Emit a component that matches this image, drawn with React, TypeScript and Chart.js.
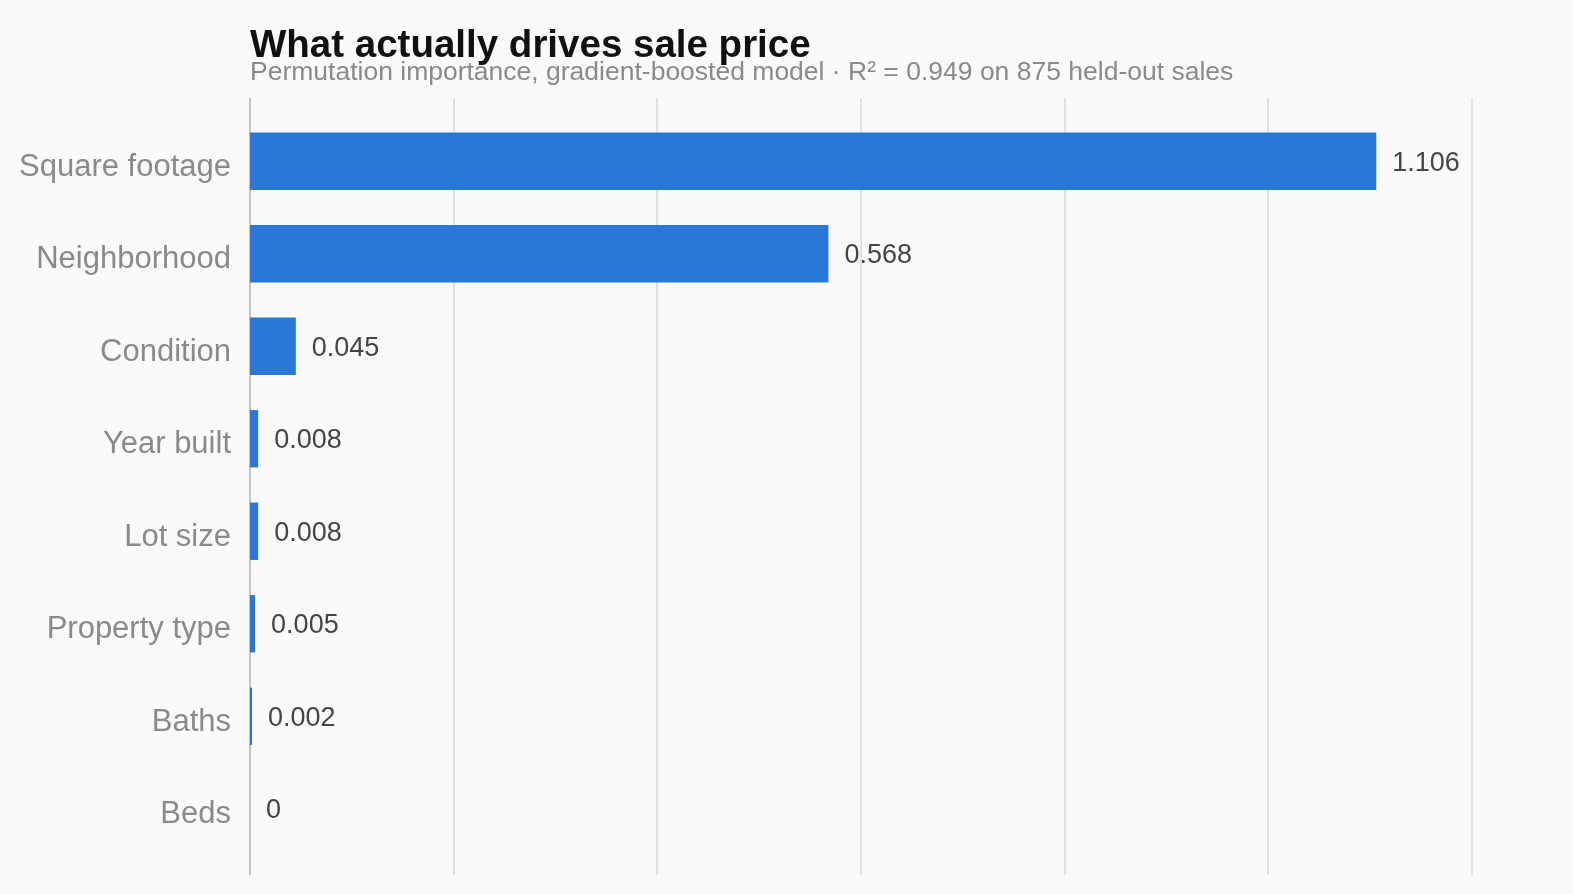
import { useEffect, useRef } from "react";
import { Chart, registerables } from "chart.js";

Chart.register(...registerables);

const features = [
  "Square footage",
  "Neighborhood",
  "Condition",
  "Year built",
  "Lot size",
  "Property type",
  "Baths",
  "Beds",
];
const importance = [1.106, 0.568, 0.045, 0.008, 0.008, 0.005, 0.002, 0];
const valueLabels = ["1.106", "0.568", "0.045", "0.008", "0.008", "0.005", "0.002", "0"];

const TITLE = "What actually drives sale price";
const SUBTITLE = "Permutation importance, gradient-boosted model · R² = 0.949 on 875 held-out sales";
const FONT = "'Liberation Sans', Arial, Helvetica, sans-serif";

// vertical grid lines, a bit longer than the plot area
const gridPlugin = {
  id: "gridLines",
  beforeDatasetsDraw(chart: any) {
    const { ctx, chartArea, scales } = chart;
    const x = scales.x;
    ctx.save();
    ctx.lineWidth = 2;
    x.ticks.forEach((t: any) => {
      const px = Math.round(x.getPixelForValue(t.value));
      ctx.strokeStyle = t.value === 0 ? "#c4c4c4" : "#e2e0db";
      ctx.beginPath();
      ctx.moveTo(px, chartArea.top - 17);
      ctx.lineTo(px, chartArea.bottom + 20);
      ctx.stroke();
    });
    ctx.restore();
  },
};

const labelPlugin = {
  id: "valueLabels",
  afterDatasetsDraw(chart: any) {
    const { ctx } = chart;
    const meta = chart.getDatasetMeta(0);
    ctx.save();
    ctx.font = `27px ${FONT}`;
    ctx.fillStyle = "#454545";
    ctx.textAlign = "left";
    ctx.textBaseline = "middle";
    meta.data.forEach((bar: any, i: number) => {
      ctx.fillText(valueLabels[i], bar.x + 16, bar.y + 2);
    });
    ctx.restore();
  },
};

const titlePlugin = {
  id: "titles",
  afterDraw(chart: any) {
    const { ctx, chartArea } = chart;
    ctx.save();
    ctx.textAlign = "left";
    ctx.textBaseline = "alphabetic";
    ctx.fillStyle = "#111111";
    ctx.font = `bold 38.5px ${FONT}`;
    ctx.fillText(TITLE, chartArea.left, 57);
    ctx.fillStyle = "#8a8a8a";
    ctx.font = `26.5px ${FONT}`;
    ctx.fillText(SUBTITLE, chartArea.left, 80);
    ctx.restore();
  },
};

export default function App() {
  const canvasRef = useRef<HTMLCanvasElement>(null);
  const chartRef = useRef<Chart | null>(null);

  useEffect(() => {
    document.body.style.margin = "0";
    document.body.style.background = "#fafafa";
    const canvas = canvasRef.current;
    if (!canvas) return;
    if (chartRef.current) chartRef.current.destroy();

    chartRef.current = new Chart(canvas, {
      type: "bar",
      data: {
        labels: features,
        datasets: [
          {
            data: importance,
            backgroundColor: "#2a78d6",
            borderWidth: 0,
            barPercentage: 0.62,
            categoryPercentage: 1,
          },
        ],
      },
      options: {
        indexAxis: "y",
        animation: false,
        responsive: true,
        maintainAspectRatio: false,
        layout: { padding: { top: 115, bottom: 39, right: 101, left: 0 } },
        plugins: {
          legend: { display: false },
          tooltip: { enabled: false },
        },
        scales: {
          x: {
            display: false,
            min: 0,
            max: 1.2,
            ticks: { stepSize: 0.2 },
          },
          y: {
            grid: { display: false },
            border: { display: false },
            ticks: {
              color: "#8a8a8a",
              padding: 11,
              labelOffset: 6,
              font: { family: FONT, size: 31 },
            },
            afterFit(scale: any) {
              scale.width = 250;
            },
          },
        },
      },
      plugins: [gridPlugin, labelPlugin, titlePlugin],
    });

    return () => {
      if (chartRef.current) {
        chartRef.current.destroy();
        chartRef.current = null;
      }
    };
  }, []);

  return (
    <div style={{ width: 1573, height: 894, background: "#fafafa", position: "relative" }}>
      <canvas ref={canvasRef} />
    </div>
  );
}
